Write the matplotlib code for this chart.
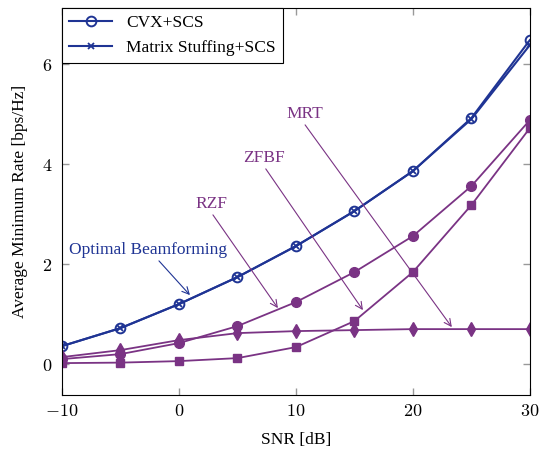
import matplotlib
matplotlib.use('Agg')
import matplotlib.pyplot as plt

plt.rcParams['font.family'] = 'Liberation Serif'
plt.rcParams['mathtext.fontset'] = 'cm'

snr = [-10, -5, 0, 5, 10, 15, 20, 25, 30]
cvx = [0.36, 0.72, 1.2, 1.74, 2.36, 3.06, 3.86, 4.92, 6.48]
stuffing = [0.36, 0.72, 1.2, 1.74, 2.36, 3.06, 3.86, 4.90, 6.38]
rzf = [0.10, 0.20, 0.42, 0.76, 1.24, 1.84, 2.56, 3.56, 4.88]
zfbf = [0.02, 0.03, 0.06, 0.12, 0.34, 0.86, 1.84, 3.18, 4.72]
mrt = [0.14, 0.28, 0.48, 0.62, 0.66, 0.68, 0.70, 0.70, 0.70]

xticks = [-10, 0, 10, 20, 30]
yticks = [0, 2, 4, 6]

blue = '#1f3494'
purple = '#7a3384'

fig = plt.figure(figsize=(5.39, 4.49), dpi=100)
ax = fig.add_axes([0.115, 0.12, 0.868, 0.862])

ax.plot(snr, cvx, color=blue, marker='o', mfc='none', ms=7, mew=1.4, lw=1.5, label='CVX+SCS')
ax.plot(snr, stuffing, color=blue, marker='x', ms=4.5, mew=1.3, lw=1.5, label='Matrix Stuffing+SCS')
ax.plot(snr, rzf, color=purple, marker='o', ms=7, lw=1.3)
ax.plot(snr, zfbf, color=purple, marker='s', ms=6, lw=1.3)
ax.plot(snr, mrt, color=purple, marker='d', ms=7.5, lw=1.3)

arrow = dict(arrowstyle='->', lw=0.8, shrinkA=0, shrinkB=0)
ax.annotate('Optimal Beamforming', xy=(0.94, 1.38), xytext=(-2.6, 2.28), color=blue, fontsize=12.5,
            ha='center', va='center', arrowprops=dict(arrow, color=blue, relpos=(0.55, 0)))
ax.annotate('RZF', xy=(8.46, 1.12), xytext=(2.74, 3.2), color=purple, fontsize=12.5,
            ha='center', va='center', arrowprops=dict(arrow, color=purple, relpos=(0.5, 0)))
ax.annotate('ZFBF', xy=(15.73, 1.08), xytext=(7.26, 4.12), color=purple, fontsize=12.5,
            ha='center', va='center', arrowprops=dict(arrow, color=purple, relpos=(0.5, 0)))
ax.annotate('MRT', xy=(23.33, 0.74), xytext=(10.77, 5.0), color=purple, fontsize=12.5,
            ha='center', va='center', arrowprops=dict(arrow, color=purple, relpos=(0.45, 0)))

ax.set_xlim(-10, 30)
ax.set_ylim(-0.62, 7.12)
ax.set_xticks(xticks)
ax.set_yticks(yticks)
ax.set_xticklabels(['$%d$' % v if v >= 0 else '$-%d$' % -v for v in xticks], fontsize=13)
ax.set_yticklabels(['$%d$' % v for v in yticks], fontsize=13)
ax.tick_params(direction='in', top=True, right=True, length=5, color='#999999', width=1)
ax.tick_params(axis='x', pad=6)
ax.tick_params(axis='y', pad=7)
ax.set_xlabel('SNR [dB]', fontsize=12.5, labelpad=8)
ax.set_ylabel('Average Minimum Rate [bps/Hz]', fontsize=12.5, labelpad=10)

leg = ax.legend(loc='upper left', fontsize=12.5, fancybox=False, edgecolor='black',
                borderaxespad=0, handlelength=2.5, framealpha=1, labelspacing=0.5)
leg.get_frame().set_linewidth(0.8)

fig.savefig('out.png', dpi=100)
